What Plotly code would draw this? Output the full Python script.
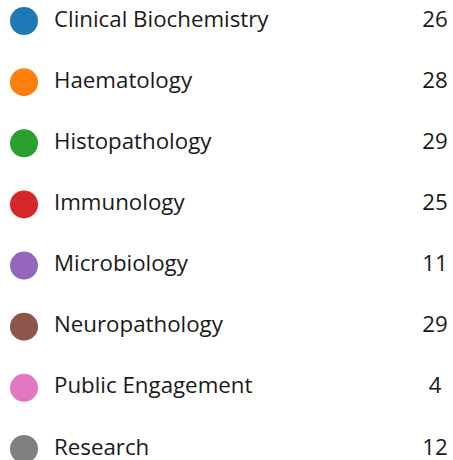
import plotly.graph_objects as go

categories = ["Clinical Biochemistry", "Haematology", "Histopathology", "Immunology",
              "Microbiology", "Neuropathology", "Public Engagement", "Research"]
values = [26, 28, 29, 25, 11, 29, 4, 12]
colors = ["#1f77b4", "#ff7f0e", "#2ca02c", "#d62728",
          "#9467bd", "#8c564b", "#e377c2", "#7f7f7f"]

rows = list(range(len(categories)))
FONT = "Open Sans"

fig = go.Figure()
fig.add_trace(go.Scatter(
    x=[24] * len(rows), y=rows, mode="markers",
    marker=dict(size=28, color=colors, symbol="circle", line=dict(width=0)),
    hoverinfo="skip", showlegend=False, cliponaxis=False,
))
fig.add_trace(go.Scatter(
    x=[54] * len(rows), y=rows, mode="text", text=categories,
    textposition="middle right",
    textfont=dict(family=FONT, size=22.3, color="#1a1a1a"),
    hoverinfo="skip", showlegend=False, cliponaxis=False,
))
fig.add_trace(go.Scatter(
    x=[435] * len(rows), y=rows, mode="text", text=[str(v) for v in values],
    textposition="middle center",
    textfont=dict(family=FONT, size=22.3, color="#1a1a1a"),
    hoverinfo="skip", showlegend=False, cliponaxis=False,
))

step = 61.14
fig.update_layout(
    width=453, height=460,
    margin=dict(l=0, r=0, t=0, b=0),
    paper_bgcolor="white", plot_bgcolor="white",
    xaxis=dict(range=[0, 453], visible=False, fixedrange=True),
    yaxis=dict(range=[(460 - 21) / step, -21 / step], visible=False, fixedrange=True),
)
fig.write_html("out.html", config={"displayModeBar": False},
               post_script="document.body.style.margin='0';document.body.style.overflow='hidden';")
